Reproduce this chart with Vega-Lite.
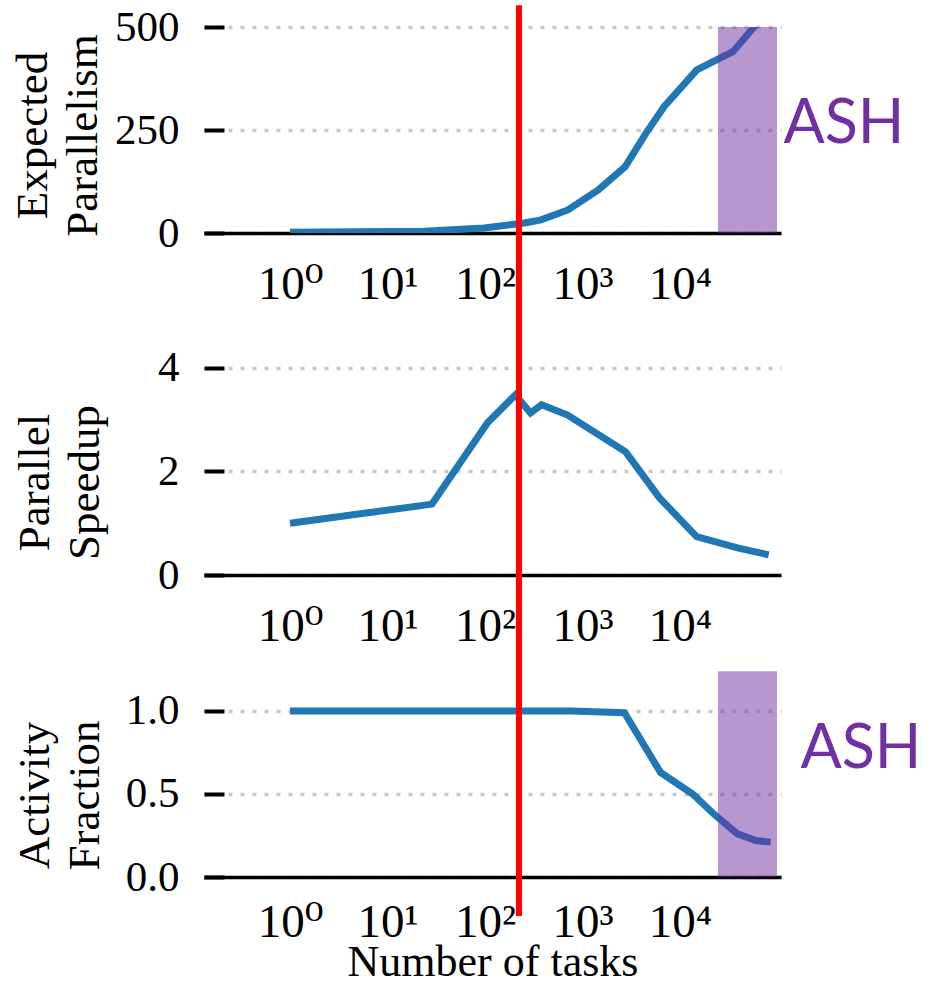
{
  "$schema": "https://vega.github.io/schema/vega-lite/v6.json",
  "background": "white",
  "padding": {"left": 10, "top": 2, "right": 0, "bottom": 0},
  "spacing": 94,
  "bounds": "flush",
  "config": {
    "view": {"stroke": null},
    "axisY": {
      "domain": false, "ticks": true, "tickSize": -20, "tickWidth": 4, "tickColor": "black",
      "labelPadding": 45, "labelFont": "Liberation Serif", "labelFontSize": 43,
      "labelColor": "black", "grid": true, "gridColor": "#c8c8c8", "gridDash": [4, 8], "gridWidth": 3.5,
      "titleFont": "Liberation Serif", "titleFontSize": 45, "titleFontWeight": "normal", "titleColor": "black",
      "titleBaseline": "alphabetic", "titleLineHeight": 50, "titleAlign": "center", "titleAngle": 270,
      "zindex": 0
    },
    "axisX": {
      "domain": true, "domainColor": "black", "domainWidth": 3.5, "ticks": false, "grid": false,
      "labelFont": "Liberation Serif, DejaVu Serif", "labelFontSize": 47, "labelColor": "black", "labelPadding": 28,
      "labelOverlap": false, "labelFlush": false,
      "titleFont": "Liberation Serif", "titleFontSize": 44, "titleFontWeight": "normal", "titleColor": "black",
      "zindex": 1
    }
  },
  "datasets": {
    "p1": [
      {"tasks": 1, "value": 2}, {"tasks": 24, "value": 4}, {"tasks": 98, "value": 12},
      {"tasks": 263, "value": 25}, {"tasks": 375, "value": 32}, {"tasks": 708, "value": 56},
      {"tasks": 1440, "value": 104}, {"tasks": 2740, "value": 161}, {"tasks": 4470, "value": 242},
      {"tasks": 6890, "value": 307}, {"tasks": 14900, "value": 396}, {"tasks": 34900, "value": 440},
      {"tasks": 57400, "value": 500}, {"tasks": 85000, "value": 546}
    ],
    "p2": [
      {"tasks": 1, "value": 1.0}, {"tasks": 28.6, "value": 1.37}, {"tasks": 106, "value": 2.94},
      {"tasks": 205, "value": 3.48}, {"tasks": 293, "value": 3.13}, {"tasks": 380, "value": 3.29},
      {"tasks": 703, "value": 3.09}, {"tasks": 2770, "value": 2.38}, {"tasks": 6170, "value": 1.49},
      {"tasks": 14800, "value": 0.74}, {"tasks": 39800, "value": 0.52}, {"tasks": 81300, "value": 0.39}
    ],
    "p3": [
      {"tasks": 1, "value": 1.0}, {"tasks": 760, "value": 1.0}, {"tasks": 2690, "value": 0.99},
      {"tasks": 6310, "value": 0.63}, {"tasks": 13500, "value": 0.5}, {"tasks": 22200, "value": 0.38},
      {"tasks": 38900, "value": 0.26}, {"tasks": 60300, "value": 0.22}, {"tasks": 85100, "value": 0.21}
    ],
    "box1": [{"x1": 24500, "x2": 98900, "y1": 0, "y2": 500}],
    "box3": [{"x1": 24500, "x2": 98900, "y1": 0, "y2": 1.24}],
    "ash1": [{"x": 481000, "y": 218, "label": "ASH"}],
    "ash3": [{"x": 718000, "y": 0.657, "label": "ASH"}],
    "red1": [{"x": 223, "y1": 553, "y2": -228}],
    "red2": [{"x": 223, "y1": 4.792, "y2": -1.816}],
    "red3": [{"x": 223, "y1": 1.253, "y2": -0.235}]
  },
  "vconcat": [
    {
      "width": 577, "height": 206,
      "layer": [
        {
          "data": {"name": "p1"},
          "mark": {"type": "line", "color": "#1f77b4", "strokeWidth": 7, "clip": true},
          "encoding": {
            "x": {"field": "tasks", "type": "quantitative",
              "scale": {"type": "log", "domain": [0.131, 108700], "nice": false},
              "axis": {"title": null, "values": [1, 10, 100, 1000, 10000],
                "labelExpr": "'10' + ['⁰','¹','²','³','⁴'][round(log(datum.value)/LN10)]"}},
            "y": {"field": "value", "type": "quantitative",
              "scale": {"domain": [0, 500], "nice": false, "zero": false},
              "axis": {"title": ["Expected", "Parallelism"], "values": [0, 250, 500], "format": "d",
                "titleX": -158, "titleY": 108}}
          }
        },
        {
          "data": {"name": "box1"},
          "mark": {"type": "rect", "color": "#7030A0", "opacity": 0.5},
          "encoding": {
            "x": {"field": "x1", "type": "quantitative"}, "x2": {"field": "x2"},
            "y": {"field": "y1", "type": "quantitative"}, "y2": {"field": "y2"}
          }
        },
        {
          "data": {"name": "ash1"},
          "mark": {"type": "text", "font": "Lato", "fontSize": 61, "color": "#7030A0", "align": "center", "baseline": "alphabetic"},
          "encoding": {
            "x": {"field": "x", "type": "quantitative"},
            "y": {"field": "y", "type": "quantitative"},
            "text": {"field": "label"}
          }
        },
        {
          "data": {"name": "red1"},
          "mark": {"type": "rule", "color": "#ff0000", "strokeWidth": 6},
          "encoding": {
            "x": {"field": "x", "type": "quantitative"},
            "y": {"field": "y1", "type": "quantitative"}, "y2": {"field": "y2"}
          }
        }
      ]
    },
    {
      "width": 577, "height": 248,
      "layer": [
        {
          "data": {"name": "p2"},
          "mark": {"type": "line", "color": "#1f77b4", "strokeWidth": 7},
          "encoding": {
            "x": {"field": "tasks", "type": "quantitative",
              "scale": {"type": "log", "domain": [0.131, 108700], "nice": false},
              "axis": {"title": null, "values": [1, 10, 100, 1000, 10000],
                "labelExpr": "'10' + ['⁰','¹','²','³','⁴'][round(log(datum.value)/LN10)]"}},
            "y": {"field": "value", "type": "quantitative",
              "scale": {"domain": [0, 4.792], "nice": false, "zero": false},
              "axis": {"title": ["Parallel", "Speedup"], "values": [0, 2, 4], "format": "d",
                "titleX": -156, "titleY": 155}}
          }
        },
        {
          "data": {"name": "red2"},
          "mark": {"type": "rule", "color": "#ff0000", "strokeWidth": 6},
          "encoding": {
            "x": {"field": "x", "type": "quantitative"},
            "y": {"field": "y1", "type": "quantitative"}, "y2": {"field": "y2"}
          }
        }
      ]
    },
    {
      "width": 577, "height": 208,
      "layer": [
        {
          "data": {"name": "p3"},
          "mark": {"type": "line", "color": "#1f77b4", "strokeWidth": 7},
          "encoding": {
            "x": {"field": "tasks", "type": "quantitative",
              "scale": {"type": "log", "domain": [0.131, 108700], "nice": false},
              "axis": {"title": "Number of tasks", "values": [1, 10, 100, 1000, 10000],
                "labelPadding": 22, "titleBaseline": "alphabetic", "titleY": 98,
                "labelExpr": "'10' + ['⁰','¹','²','³','⁴'][round(log(datum.value)/LN10)]"}},
            "y": {"field": "value", "type": "quantitative",
              "scale": {"domain": [0, 1.253], "nice": false, "zero": false},
              "axis": {"title": ["Activity", "Fraction"], "values": [0, 0.5, 1.0], "format": ".1f",
                "titleX": -156, "titleY": 126}}
          }
        },
        {
          "data": {"name": "box3"},
          "mark": {"type": "rect", "color": "#7030A0", "opacity": 0.5},
          "encoding": {
            "x": {"field": "x1", "type": "quantitative"}, "x2": {"field": "x2"},
            "y": {"field": "y1", "type": "quantitative"}, "y2": {"field": "y2"}
          }
        },
        {
          "data": {"name": "ash3"},
          "mark": {"type": "text", "font": "Lato", "fontSize": 61, "color": "#7030A0", "align": "center", "baseline": "alphabetic"},
          "encoding": {
            "x": {"field": "x", "type": "quantitative"},
            "y": {"field": "y", "type": "quantitative"},
            "text": {"field": "label"}
          }
        },
        {
          "data": {"name": "red3"},
          "mark": {"type": "rule", "color": "#ff0000", "strokeWidth": 6},
          "encoding": {
            "x": {"field": "x", "type": "quantitative"},
            "y": {"field": "y1", "type": "quantitative"}, "y2": {"field": "y2"}
          }
        }
      ]
    }
  ]
}
